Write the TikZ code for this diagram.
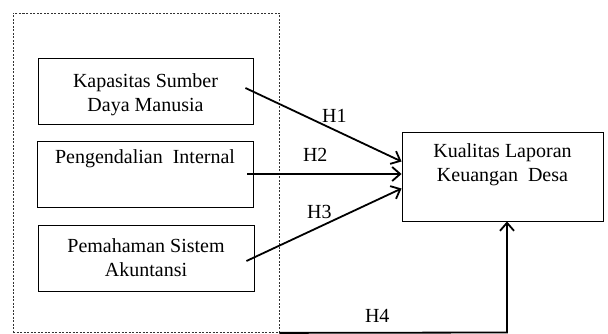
\documentclass[tikz,border=0pt]{standalone}
\usepackage{fontspec}
\setmainfont{Liberation Serif}
\usetikzlibrary{arrows.meta,positioning}
\tikzset{varbox/.style={draw=black,line width=0.9pt,inner sep=0pt,align=center,minimum width=216pt,minimum height=66pt}}
\tikzset{hyp/.style={->,>={Straight Barb[length=8pt,width=14pt]},line width=1.8pt}}

\begin{document}
\begin{tikzpicture}[x=1pt,y=-1pt,font=\fontsize{20}{24}\selectfont]
\useasboundingbox (0,0) rectangle (608,334);
% \draw[help lines] (0,0) grid (608,334);
\node (group) [draw=black!80,line width=0.8pt,dash pattern=on 2pt off 1.5pt,minimum width=266pt,minimum height=319.5pt,inner sep=0pt] at (146,172.75) {};
\node (kapasitas) [varbox,minimum width=215pt,text height=46pt] at (145.5,91) {Kapasitas Sumber\\Daya Manusia};
\node (pengendalian) [varbox,text depth=35pt] at (145,174) {Pengendalian~~Internal};
\node (pemahaman) [varbox] at (146,258) {Pemahaman Sistem\\Akuntansi};
\node (kualitas) [varbox,minimum width=201pt,minimum height=89pt,text depth=28pt] at (502.5,176.5) {Kualitas Laporan\\Keuangan~~Desa};
\coordinate (h4turn) at (507,332.5);
%
\path[hyp]([xshift=-8pt,yshift=3pt]kapasitas.east) edge node[above=3pt,pos=0.57] {H1} ([yshift=15pt]kualitas.west);
\path[hyp]([xshift=-6pt]pengendalian.east) edge node[above=8pt,pos=0.44] {H2} (pengendalian.east -| kualitas.west);
\path[hyp]([xshift=-8pt,yshift=-3pt]pemahaman.east) edge node[above=4pt,pos=0.47] {H3} ([yshift=-12pt]kualitas.west);
\draw[hyp](group.south east) -- node[above=6pt,pos=0.43] {H4} (h4turn) -- (h4turn |- kualitas.south);
\end{tikzpicture}
\end{document}
